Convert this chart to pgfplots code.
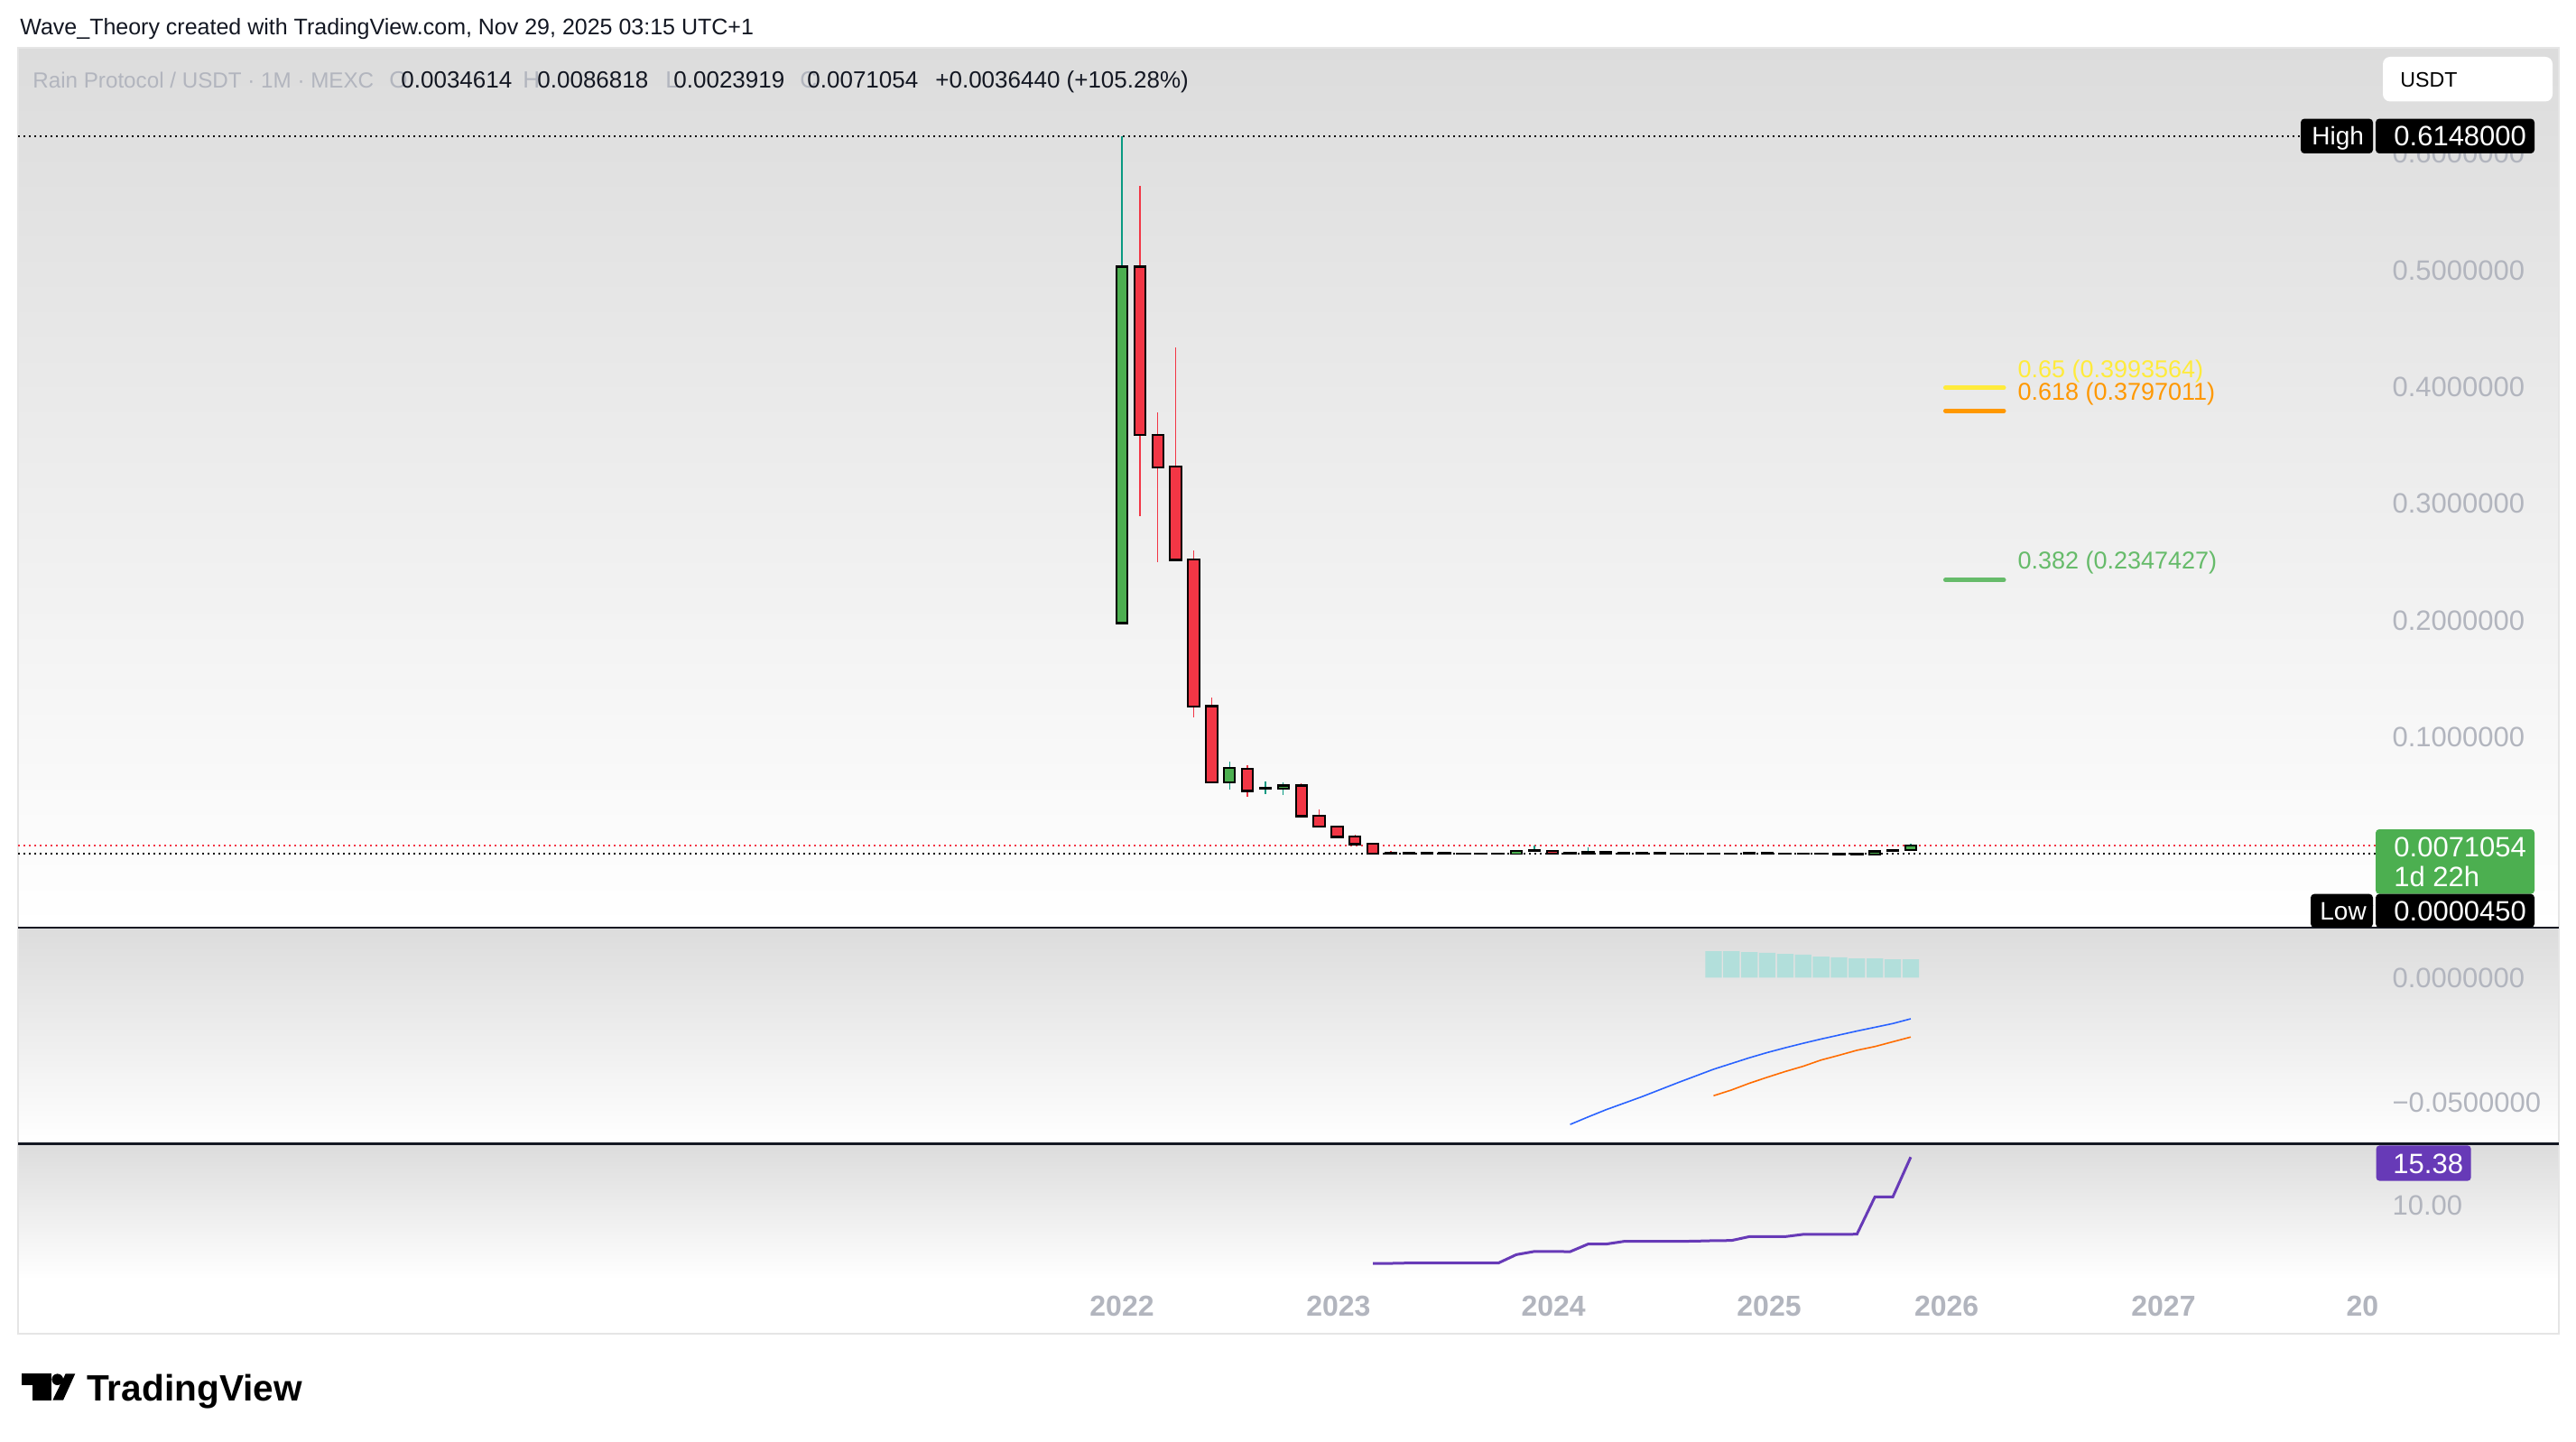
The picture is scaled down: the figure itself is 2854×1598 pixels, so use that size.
\documentclass[border=0pt]{standalone}
\usepackage{fontspec}
\setmainfont{Liberation Sans}
\usepackage{pgfplots}
\usepackage{pgfplotstable}
\pgfplotsset{compat=1.18}

\definecolor{tvgreen}{HTML}{4CAF50}
\definecolor{tvred}{HTML}{F23645}
\definecolor{tvteal}{HTML}{089981}
\definecolor{axtxt}{HTML}{B2B5BE}
\definecolor{tvblack}{HTML}{131722}
\definecolor{fibY}{HTML}{FFEB3B}
\definecolor{fibO}{HTML}{FF9800}
\definecolor{fibG}{HTML}{66BB6A}
\definecolor{histc}{HTML}{B2DFDB}
\definecolor{macdb}{HTML}{2962FF}
\definecolor{macdo}{HTML}{FF6D00}
\definecolor{tvpurple}{HTML}{673AB7}
\definecolor{bgtop}{HTML}{DCDCDC}

\newcommand\axf{\fontsize{15.5}{18}\selectfont}

% monthly candles: month index, open, high, low, close
\pgfplotstableread{
n  o         h         l         c
0  0.198     0.6148    0.198     0.503
6  0.0615    0.0791    0.0554    0.0734
8  0.0559    0.0621    0.0513    0.0563
9  0.0559    0.0616    0.0507    0.0585
22 0.0003    0.0031    0.0003    0.0022
23 0.0032    0.0070    0.0020    0.0034
26 0.0003    0.0058    0.0003    0.0013
28 0.0008    0.0016    0.0007    0.0012
42 0.00005   0.0025    0.000045  0.0021
44 0.0034614 0.0086818 0.0023919 0.0071054
}\upcandles
\pgfplotstableread{
n  o       h       l        c
1  0.503   0.5725  0.2897   0.359
2  0.359   0.378   0.250    0.331
3  0.332   0.434   0.251    0.252
4  0.252   0.260   0.117    0.1266
5  0.1266  0.134   0.061    0.0615
7  0.0727  0.076   0.0492   0.0541
10 0.0585  0.0603  0.0314   0.0325
11 0.0325  0.0381  0.0234   0.0234
12 0.0234  0.0234  0.0147   0.0147
13 0.0147  0.0165  0.0085   0.0085
14 0.0085  0.0095  0.0004   0.0005
15 0.0006  0.0023  0.0003   0.0005
16 0.0006  0.0008  0.0004   0.0005
17 0.0006  0.0008  0.0004   0.0005
18 0.0006  0.0008  0.0004   0.0005
19 0.0003  0.0004  0.0002   0.0002
20 0.0003  0.0004  0.0002   0.0002
21 0.0003  0.0004  0.0002   0.0002
24 0.0025  0.0027  0.0003   0.0004
25 0.0006  0.0007  0.0004   0.0005
27 0.0013  0.0014  0.0003   0.0003
29 0.0010  0.0011  0.0007   0.0008
30 0.0006  0.0007  0.0004   0.0005
31 0.0003  0.0004  0.0002   0.0002
32 0.0003  0.0004  0.0002   0.0002
33 0.0003  0.0004  0.0002   0.0002
34 0.0003  0.0004  0.0002   0.0002
35 0.0006  0.0007  0.0004   0.0005
36 0.0006  0.0007  0.0004   0.0005
37 0.0003  0.0004  0.0002   0.0002
38 0.0003  0.0004  0.0002   0.0002
39 0.0003  0.0004  0.0002   0.0002
40 0.0001  0.0002  0.000045 0.00005
41 0.0001  0.0002  0.000045 0.00005
43 0.0032  0.0034  0.0018   0.0030
}\dncandles

\pgfplotsset{
  tvpane/.style={
    scale only axis, anchor=north west, width=1306pt,
    xmin=-61.58, xmax=69.94,
    axis line style={draw=none}, tick style={draw=none}, major tick length=0pt,
    xtick=\empty, yticklabel pos=right,
    yticklabel style={anchor=west, inner sep=0pt, xshift=9pt, font=\axf, text=axtxt}},
  bars/.style={draw=none, mark=none, forget plot,
    error bars/.cd, y dir=both, y explicit, error mark=none,
    error bar style={#1}},
}
% wick, black body outline, coloured body
\newcommand\candles[3]{%
  \addplot[bars={draw=#2, line width=0.7pt}] table[x=n,
    y expr={(\thisrow{h}+\thisrow{l})/2}, y error expr={(\thisrow{h}-\thisrow{l})/2}] {#1};
  \addplot[bars={draw=black, line width=7.15pt}] table[x=n,
    y expr={(\thisrow{o}+\thisrow{c})/2}, y error expr={abs(\thisrow{o}-\thisrow{c})/2+0.001}] {#1};
  \addplot[bars={draw=#3, line width=5.15pt}] table[x=n,
    y expr={(\thisrow{o}+\thisrow{c})/2}, y error expr={max(abs(\thisrow{o}-\thisrow{c})/2-0.00075,0)}] {#1};
}

\begin{document}
\begin{tikzpicture}
\begin{scope}[x=0.5pt,y=-0.5pt]
  \fill[white] (0,0) rectangle (2854,1598);
  \shade[top color=bgtop, bottom color=white] (20,53) rectangle (2835,1027.7);
  \shade[top color=bgtop, bottom color=white] (20,1027.7) rectangle (2835,1267.7);
  \shade[top color=bgtop, bottom color=white] (20,1267.7) rectangle (2835,1418);
  \draw[gray!20, line width=0.8pt] (20,53) rectangle (2835,1478);
  \node[anchor=base west, inner sep=0pt, font=\fontsize{12.5}{15}\selectfont, text=tvblack]
    at (22,38.5) {Wave\_Theory created with TradingView.com, Nov 29, 2025 03:15 UTC+1};
  \begin{scope}[every node/.style={anchor=base west, inner sep=0pt, font=\fontsize{13}{15}\selectfont}]
    \node[text=axtxt, font=\fontsize{12.1}{15}\selectfont] at (36,97.5) {Rain Protocol / USDT · 1M · MEXC};
    \node[text=axtxt] at (431,97.5) {O};
    \node[text=tvblack] at (444,97.5) {0.0034614};
    \node[text=axtxt] at (579,97.5) {H};
    \node[text=tvblack] at (595,97.5) {0.0086818};
    \node[text=axtxt] at (737,97.5) {L};
    \node[text=tvblack] at (746,97.5) {0.0023919};
    \node[text=axtxt] at (886,97.5) {C};
    \node[text=tvblack] at (894,97.5) {0.0071054};
    \node[text=tvblack] at (1036,97.5) {+0.0036440 (+105.28\%)};
  \end{scope}
\end{scope}

% main price pane
\begin{axis}[tvpane, at={(10pt,-26.5pt)}, height=487.35pt,
  ymin=-0.0629, ymax=0.6906,
  ytick={0.1,0.2,0.3,0.4,0.5,0.6},
  yticklabels={0.1000000,0.2000000,0.3000000,0.4000000,0.5000000,0.6000000}]
  \addplot[black, line width=1pt, dash pattern=on 1pt off 2pt] coordinates {(-61.58,0.6148) (65.76,0.6148)};
  \addplot[tvred, line width=1pt, dash pattern=on 1pt off 2pt] coordinates {(-61.58,0.0071054) (69.94,0.0071054)};
  \addplot[black, line width=1pt, dash pattern=on 1pt off 2pt] coordinates {(-61.58,0.000045) (69.94,0.000045)};
  \candles{\upcandles}{tvteal}{tvgreen}
  \candles{\dncandles}{tvred}{tvred}
  % fibonacci levels
  \addplot[fibY, line width=2.5pt, line cap=round] coordinates {(45.94,0.3993564) (49.19,0.3993564)};
  \addplot[fibO, line width=2.5pt, line cap=round] coordinates {(45.94,0.3797011) (49.19,0.3797011)};
  \addplot[fibG, line width=2.5pt, line cap=round] coordinates {(45.94,0.2347427) (49.19,0.2347427)};
  \node[anchor=base west, inner sep=0pt, font=\fontsize{13.5}{15}\selectfont, text=fibY] at (axis cs:49.95,0.4084) {0.65 (0.3993564)};
  \node[anchor=base west, inner sep=0pt, font=\fontsize{13.5}{15}\selectfont, text=fibO] at (axis cs:49.95,0.3891) {0.618 (0.3797011)};
  \node[anchor=base west, inner sep=0pt, font=\fontsize{13.5}{15}\selectfont, text=fibG] at (axis cs:49.95,0.2442) {0.382 (0.2347427)};
\end{axis}

% MACD pane
\begin{axis}[tvpane, at={(10pt,-513.85pt)}, height=120pt,
  ymin=-0.0666, ymax=0.0201,
  ytick={-0.05,0}, yticklabels={−0.0500000,0.0000000}]
  \addplot[ybar, bar width=0.92, fill=histc, draw=none] coordinates {
    (33,0.0106) (34,0.0106) (35,0.0102) (36,0.0099) (37,0.0095) (38,0.0092)
    (39,0.0084) (40,0.0081) (41,0.0077) (42,0.0077) (43,0.0073) (44,0.0073)};
  \addplot[macdb, line width=0.8pt] coordinates {
    (25,-0.0588) (26,-0.0558) (27,-0.0529) (28,-0.0503) (29,-0.0477) (30,-0.0449)
    (31,-0.0421) (32,-0.0394) (33,-0.0367) (34,-0.0344) (35,-0.0321) (36,-0.0300)
    (37,-0.0281) (38,-0.0263) (39,-0.0246) (40,-0.0230) (41,-0.0214) (42,-0.0199)
    (43,-0.0184) (44,-0.0165)};
  \addplot[macdo, line width=0.8pt] coordinates {
    (33,-0.0473) (34,-0.0450) (35,-0.0423) (36,-0.0399) (37,-0.0376) (38,-0.0355)
    (39,-0.0330) (40,-0.0311) (41,-0.0291) (42,-0.0276) (43,-0.0257) (44,-0.0238)};
\end{axis}

% lower indicator pane
\begin{axis}[tvpane, at={(10pt,-633.85pt)}, height=75.15pt,
  ymin=1.78, ymax=16.84,
  ytick={10}, yticklabels={10.00},
  xtick={0,12.08,24.07,36.1,46.0,58.1,69.2},
  xticklabels={2022,2023,2024,2025,2026,2027,20},
  xticklabel style={anchor=base, inner sep=0pt, yshift=-20pt,
    font=\bfseries\fontsize{16}{18}\selectfont, text=axtxt}]
  \addplot[tvpurple, line width=1.5pt] coordinates {
    (14,3.58) (15,3.58) (16,3.62) (17,3.62) (18,3.62) (19,3.62) (20,3.62) (21,3.62)
    (22,4.55) (23,4.90) (24,4.90) (25,4.88) (26,5.72) (27,5.72) (28,6.02) (29,6.02)
    (30,6.02) (31,6.02) (32,6.05) (33,6.10) (34,6.12) (35,6.55) (36,6.55) (37,6.55)
    (38,6.80) (39,6.80) (40,6.80) (41,6.82) (42,10.95) (43,10.95) (44,15.38)};
\end{axis}

\begin{scope}[x=0.5pt,y=-0.5pt]
  \draw[tvblack, line width=1.2pt] (20,1027.7) -- (2835,1027.7);
  \draw[tvblack, line width=1.2pt] (20,1267.5) -- (2835,1267.5);
  % USDT button
  \fill[white, rounded corners=4pt] (2640,63) rectangle (2828,112.5);
  \node[anchor=base west, inner sep=0pt, font=\fontsize{11.6}{13}\selectfont, text=black] at (2659,96.3) {USDT};
  % High
  \fill[black, rounded corners=2pt] (2549,131.6) rectangle (2629,170);
  \fill[black, rounded corners=2pt] (2632,131.6) rectangle (2808,170);
  \node[anchor=base west, inner sep=0pt, font=\fontsize{14}{16}\selectfont, text=white] at (2561,160.8) {High};
  \node[anchor=base west, inner sep=0pt, font=\axf, text=white] at (2652,161.8) {0.6148000};
  % last price
  \fill[tvgreen, rounded corners=2pt] (2632,919) rectangle (2808,990.7);
  \node[anchor=base west, inner sep=0pt, font=\axf, text=white] at (2652,949) {0.0071054};
  \node[anchor=base west, inner sep=0pt, font=\axf, text=white] at (2652,982.5) {1d 22h};
  % Low
  \fill[black, rounded corners=2pt] (2560,990.7) rectangle (2629,1027.7);
  \fill[black, rounded corners=2pt] (2632,990.7) rectangle (2808,1027.7);
  \node[anchor=base west, inner sep=0pt, font=\fontsize{14}{16}\selectfont, text=white] at (2570,1019) {Low};
  \node[anchor=base west, inner sep=0pt, font=\axf, text=white] at (2652,1020) {0.0000450};
  % indicator value
  \fill[tvpurple, rounded corners=2pt] (2632.5,1269.3) rectangle (2737.7,1308.7);
  \node[anchor=base west, inner sep=0pt, font=\axf, text=white] at (2651,1300) {15.38};
  % TradingView logo
  \fill[black] (24,1522.3) rectangle (57.3,1535);
  \fill[black] (36,1522.3) rectangle (57.3,1551.7);
  \fill[black] (63.7,1528.7) circle (3.15pt);
  \fill[black] (58.3,1551.7) -- (72.7,1522.3) -- (83.3,1522.3) -- (70,1551.7) -- cycle;
  \node[anchor=base west, inner sep=0pt, font=\bfseries\fontsize{20.3}{24}\selectfont, text=black] at (96,1552) {TradingView};
\end{scope}
\end{tikzpicture}
\end{document}
